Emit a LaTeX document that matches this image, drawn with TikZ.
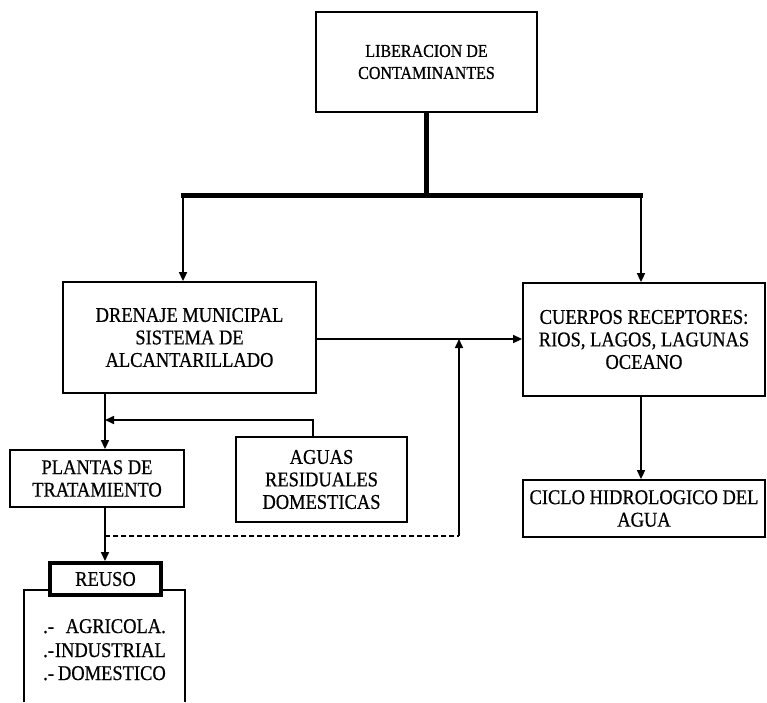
\documentclass[tikz,border=0pt]{standalone}
\usepackage{fontspec}
\setmainfont{Liberation Serif}[FakeStretch=0.88,FakeBold=0.6]
\usetikzlibrary{arrows.meta}
\begin{document}
\begin{tikzpicture}[x=1pt,y=-1pt,
  box/.style={draw=black,line width=1.8pt,fill=white,inner sep=0pt,align=center,
    font=\fontsize{21}{22.5}\selectfont},
  conn/.style={line width=1.6pt},
  arr/.style={conn,-{Triangle[length=9pt,width=8pt]}},
  bus/.style={line width=5pt},
  txt/.style={inner sep=0pt,font=\fontsize{21}{22.5}\selectfont}]
\useasboundingbox (0,0) rectangle (767,702);
\fill[white] (0,0) rectangle (767,702);
% boxes
\node[box,minimum width=221pt,minimum height=100pt,font=\fontsize{18.2}{22}\selectfont] (lib) at (426.5,62) {LIBERACION DE\\CONTAMINANTES};
\node[box,minimum width=253pt,minimum height=111pt] (dren) at (189.5,337.5) {DRENAJE MUNICIPAL\\SISTEMA DE\\ALCANTARILLADO};
\node[box,minimum width=242pt,minimum height=113pt] (cuer) at (644,339.5) {CUERPOS RECEPTORES:\\RIOS, LAGOS, LAGUNAS\\OCEANO};
\node[box,minimum width=174pt,minimum height=57pt] (plan) at (97,478.5) {PLANTAS DE\\TRATAMIENTO};
\node[box,minimum width=171pt,minimum height=85pt] (agu) at (321.5,479.5) {AGUAS\\RESIDUALES\\DOMESTICAS};
\node[box,minimum width=242pt,minimum height=57pt] (cic) at (644,508.5) {CICLO HIDROLOGICO DEL\\AGUA};
% open reuse box
\draw[line width=1.8pt] (24,702) -- (24,590) -- (185,590) -- (185,702);
\node[box,line width=4pt,minimum width=111pt,minimum height=32pt] (reuso) at (105.5,579) {REUSO};
\node[txt,anchor=base west] (d1) at (43,633) {.-};
\node[txt,anchor=base east] (w1) at (166,633) {AGRICOLA.};
\node[txt,anchor=base west] (d2) at (43,657) {.-};
\node[txt,anchor=base east] (w2) at (166,657) {INDUSTRIAL};
\node[txt,anchor=base west] (d3) at (43,680) {.-};
\node[txt,anchor=base east] (w3) at (166,680) {DOMESTICO};
% coordinates
\coordinate (busL) at (183,195);
\coordinate (busR) at (641,195);
\coordinate (mid) at (459,339);
\coordinate (tx) at (105,420);
\coordinate (aq) at (313,420);
\coordinate (dj) at (105,536);
\coordinate (dk) at (459,536);
% connectors
\draw[bus] (lib.south) -- (lib.south |- busL);
\draw[bus] ([xshift=-2pt]busL) -- ([xshift=2pt]busR);
\draw[arr] (busL) -- (busL |- dren.north);
\draw[arr] (busR) -- (busR |- cuer.north);
\draw[arr] (dren.east |- mid) -- (cuer.west |- mid);
\draw[arr] (tx |- dren.south) -- (tx |- plan.north);
\draw[arr] (aq |- agu.north) -- (aq) -- (tx);
\draw[arr] (tx |- plan.south) -- (tx |- reuso.north);
\draw[conn,dashed,dash pattern=on 5pt off 3pt] (dj) -- (dk);
\draw[arr] (dk) -- (mid);
\draw[arr] (busR |- cuer.south) -- (busR |- cic.north);
\end{tikzpicture}
\end{document}
